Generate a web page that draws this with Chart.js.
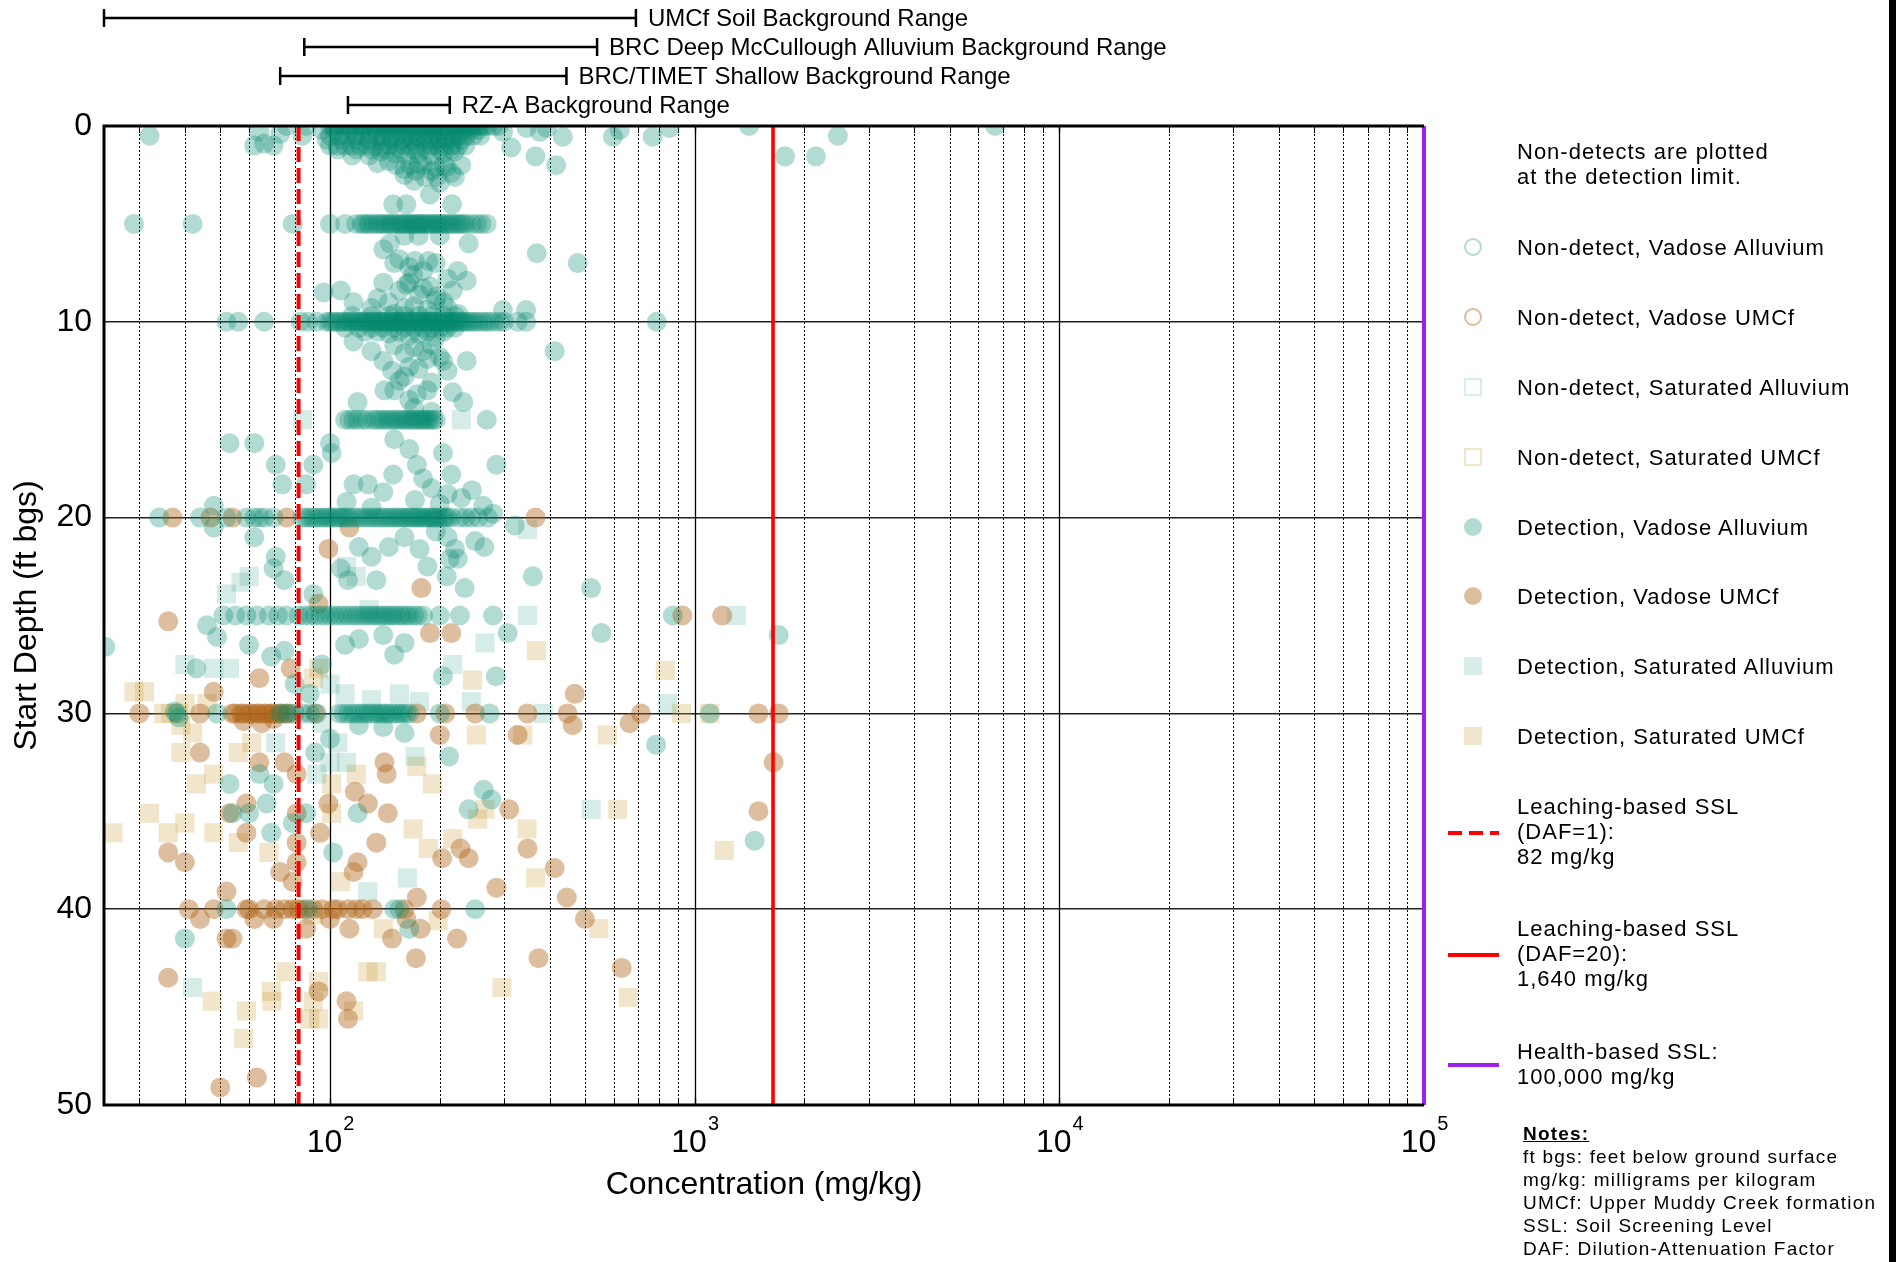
<!DOCTYPE html>
<html>
<head>
<meta charset="utf-8">
<script src="https://cdn.jsdelivr.net/npm/chart.js@4.4.1/dist/chart.umd.min.js"></script>
<style>
  body { margin: 0; background: #fff; }
  #wrap { position: relative; width: 1896px; height: 1262px; overflow: hidden; }
  #chart { position: absolute; left: 0; top: 0; }
  .txt { position: absolute; font-family: "Liberation Sans", Arial, sans-serif; font-size: 22px; letter-spacing: 1px; line-height: 25px; color: #000; white-space: nowrap; }
  .mk { position: absolute; box-sizing: border-box; }
  .notes { position: absolute; left: 1523px; top: 1122px; font-family: "Liberation Sans", Arial, sans-serif; font-size: 19px; letter-spacing: 1.2px; line-height: 23px; white-space: nowrap; }
  .notes b { text-decoration: underline; }
  #edge { position: absolute; left: 1889px; top: 0; width: 7px; height: 1262px; background: #000; }
</style>
</head>
<body>
<div id="wrap">
  <canvas id="chart" width="1896" height="1262"></canvas>
  <div id="legend"></div>
  <div class="notes"><b>Notes:</b><br>ft bgs: feet below ground surface<br>mg/kg: milligrams per kilogram<br>UMCf: Upper Muddy Creek formation<br>SSL: Soil Screening Level<br>DAF: Dilution-Attenuation Factor</div>
  <div id="edge"></div>
</div>
<script>
// --- axis setup ---
const concMin = 24;
const concMax = 100000;
const concTickExponents = [2, 3, 4, 5];
const depthTicks = [0, 10, 20, 30, 40, 50];

// --- background ranges (mg/kg) ---
const rangeNames = [
    "UMCf Soil Background Range",
    "BRC Deep McCullough Alluvium Background Range",
    "BRC/TIMET Shallow Background Range",
    "RZ-A Background Range"
];
const rangeLow = [24, 85, 73, 112];
const rangeHigh = [690, 540, 445, 213];

// --- screening levels (mg/kg) ---
const sslDaf1 = 82;
const sslDaf20 = 1640;
const sslHealth = 100000;

// --- samples: [concentration mg/kg, start depth ft bgs] ---
const nonDetVadoseAlluvium = [];
const nonDetVadoseUMCf = [];
const nonDetSaturatedAlluvium = [];
const nonDetSaturatedUMCf = [];

const detVadoseAlluvium = [
    // 0-3 ft
    [76,0],[86,0],[100,0],[104,0],[109,0],[114,0],[119,0],[124,0],[130,0],[136,0],[142,0],[148,0],[155,0],[162,0],[169,0],[176,0],[184,0],[192,0],[200,0],[209,0],[218,0],[228,0],[240,0],[252,0],[265,0],[298,0.3],[346,0.1],[393,0.1],[623,0.2],[853,0.1],[1410,0],[6670,0],
    [102,0],[107,0],[112,0],[117,0],[122,0],[127,0],[133,0],[139,0],[145,0],[151,0],[158,0],[165,0],[172,0],[180,0],[188,0],[196,0],[205,0],[214,0],[223,0],[234,0],[246,0],[258,0],[270,0],[280,0],[290,0],
    [95,0.2],[103,0.2],[113,0.2],[123,0.2],[133,0.2],[143,0.2],[153,0.2],[163,0.2],[173,0.2],[183,0.2],[193,0.2],[203,0.2],[213,0.2],[223,0.2],[233,0.2],[243,0.2],[255,0.2],
    [32,0.5],[64,0.3],[73,0.4],[84,0.5],[100,0.5],[106,0.5],[111,0.5],[117,0.5],[122,0.5],[128,0.5],[134,0.5],[140,0.5],[147,0.5],[153,0.5],[160,0.5],[167,0.5],[174,0.5],[182,0.5],[190,0.5],[198,0.5],[207,0.5],[216,0.5],[226,0.5],[236,0.5],[247,0.5],[258,0.5],[376,0.3],[435,0.55],[597,0.55],[767,0.55],[2470,0.5],
    [98,0.7],[108,0.7],[118,0.7],[128,0.7],[138,0.7],[148,0.7],[158,0.7],[168,0.7],[178,0.7],[188,0.7],[198,0.7],[208,0.7],[218,0.7],[230,0.7],
    [62,1],[66,0.9],[70,1],[100,1],[105,1],[110,1],[115,1],[121,1],[127,1],[133,1],[139,1],[145,1],[152,1],[159,1],[166,1],[173,1],[181,1],[189,1],[197,1],[206,1],[215,1],[225,1],[235,1],[314,1.1],
    [105,1.2],[118,1.2],[130,1.2],[143,1.2],[156,1.2],[170,1.2],[185,1.2],[200,1.2],[215,1.2],
    [115,1.5],[128,1.5],[138,1.3],[150,1.4],[162,1.5],[175,1.4],[190,1.5],[205,1.4],[220,1.3],[366,1.55],[1770,1.55],[2150,1.55],
    [135,1.9],[152,2],[166,2],[180,2],[195,2.1],[209,2.1],[229,2],[417,2],[145,1.8],[160,2.2],[175,1.9],[190,2.3],[205,2.0],[215,2.4],
    [160,2.5],[182,2.6],[196,2.6],[220,2.6],[172,2.3],[170,2.8],[200,2.9],
    [188,3.5],[162,4],[216,4],[149,4],
    // 5 ft
    [29,5],[42,5],[79,5],[100,5],[110,5],[118,5],[124,5],[129,5],[135,5],[140,5],[145,5],[149,5],[155,5],[160,5],[165,5],[170,5],[175,5],[180,5],[186,5],[192,5],[198,5],[205,5],[212,5],[220,5],[228,5],[237,5],[253,5],[269,5],
    [122,5],[127,5],[132,5],[137,5],[142,5],[147,5],[152,5],[157,5],[162,5],[167,5],[172,5],[177,5],[183,5],[189,5],[195,5],[201,5],[208,5],[216,5],[224,5],[232,5],[245,5],[260,5],
    [146,6],[160,5.6],[175,5.6],[200,5.6],[240,6],[369,6.5],[140,6.3],[155,6.8],[165,7.2],[180,7.4],[195,7.0],[210,7.8],
    [150,7],[171,6.9],[186,6.9],[169,7.6],[224,7.4],[478,7],
    [96,8.5],[107,8.4],[116,9],[140,8],[155,8.4],[162,8.1],[175,8.6],[188,8.2],[196,8.7],[217,8.4],[237,7.9],[130,9.3],[145,9],[160,9.3],[170,9.2],[185,9.4],[205,9],[298,9.4],[345,9.4],
    [165,8.0],[180,8.3],[195,8.9],[210,9.3],[225,9.6],[150,9.6],[135,8.8],
    // 10 ft
    [52,10],[56,10],[66,10],[83,10],[87,10],[92,10],[98,10],[100,10],[104,10],[108,10],[112,10],[116,10],[120,10],[124,10],[128,10],[132,10],[136,10],[140,10],[144,10],[148,10],[152,10],[156,10],[160,10],[165,10],[170,10],[175,10],[180,10],[185,10],[190,10],[195,10],[200,10],[206,10],[212,10],[218,10],[225,10],[232,10],[240,10],[250,10],[262,10],[274,10],[292,10],[327,10],[345,10],[787,10],
    [102,10],[106,10],[110,10],[114,10],[118,10],[122,10],[126,10],[130,10],[134,10],[138,10],[142,10],[146,10],[150,10],[154,10],[158,10],[162,10],[167,10],[172,10],[177,10],[182,10],[187,10],[192,10],[197,10],[203,10],[209,10],[215,10],[221,10],[228,10],[236,10],[245,10],[255,10],[268,10],[282,10],[300,10],
    [110,10.3],[120,10.3],[130,10.3],[140,10.3],[150,10.3],[160,10.3],[170,10.3],[180,10.3],[190,10.3],[200,10.3],[210,10.3],[220,10.3],
    [115,9.7],[130,9.7],[145,9.7],[160,9.7],[175,9.7],[190,9.7],[205,9.7],[220,9.7],
    [116,11],[125,10.5],[135,10.5],[145,10.6],[155,10.5],[165,10.7],[175,10.6],[185,10.5],[195,10.8],[205,10.5],[150,11.2],[170,11.3],[190,11.2],[160,11.6],[180,11.5],[413,11.5],
    [237,12],[204,12],[148,12.5],[175,12.4],[160,12.8],[155,13],[141,13.5],[185,13.5],[190,13.1],[173,13.7],[217,13.6],[165,14],[119,14.1],[232,14.1],
    [130,11.5],[140,12],[165,12.3],[185,11.9],[200,11.8],[210,12.5],[150,13.5],[170,14.4],[190,14.6],
    // 15 ft
    [110,15],[116,15],[123,15],[134,15],[140,15],[146,15],[152,15],[158,15],[164,15],[170,15],[176,15],[182,15],[188,15],[195,15],[269,15],
    [113,15],[119,15],[126,15],[131,15],[137,15],[143,15],[149,15],[155,15],[161,15],[167,15],[173,15],[179,15],[185,15],[192,15],
    [53,16.2],[62,16.2],[100,16.2],[101,16.7],[150,16],[165,16.5],[204,16.7],[71,17.3],[90,17.3],[173,17.3],[286,17.3],[149,17.8],[215,17.8],[180,18],[74,18.3],[86,18.3],[116,18.3],[127,18.3],[190,18.5],[245,18.6],[140,18.7],[210,18.8],[229,19],[171,19.1],[111,19.2],[200,19.3],[48,19.4],[263,19.4],[130,19.5],[280,19.8],
    // 20 ft
    [34,20],[44,20],[52,20],[59,20],[64,20],[70,20],[84,20],[88,20],[92,20],[96,20],[100,20],[104,20],[108,20],[112,20],[118,20],[124,20],[130,20],[136,20],[142,20],[148,20],[154,20],[160,20],[166,20],[172,20],[178,20],[184,20],[190,20],[196,20],[204,20],[210,20],[227,20],[244,20],[271,20],
    [62,20],[66,20],[86,20],[90,20],[94,20],[98,20],[102,20],[106,20],[110,20],[115,20],[121,20],[127,20],[133,20],[139,20],[145,20],[151,20],[157,20],[163,20],[169,20],[175,20],[181,20],[187,20],[193,20],[200,20],[207,20],[215,20],[235,20],[255,20],
    [48,20.5],[321,20.4],[195,20.7],[62,21],[160,21],[210,21],[250,21.2],[120,21.5],[145,21.5],[265,21.5],[176,21.6],[220,21.6],[71,22],[130,22],[213,22.1],[224,22.1],[185,22.5],[70,22.6],[107,22.6],[209,23],[360,23],[75,23.2],[112,23.2],[134,23.2],[90,23.9],[234,23.6],[520,23.6],
    // 25 ft
    [51,25],[55,25],[59,25],[63,25],[68,25],[72,25],[76,25],[82,25],[88,25],[94,25],[100,25],[106,25],[112,25],[118,25],[124,25],[130,25],[136,25],[142,25],[148,25],[155,25],[162,25],[170,25],[180,25],[200,25],[227,25],[280,25],[871,25],
    [85,25],[91,25],[97,25],[103,25],[109,25],[115,25],[121,25],[127,25],[133,25],[139,25],[145,25],[151,25],[158,25],[165,25],[174,25],
    [46,25.5],[307,25.9],[555,25.9],[1700,26],[49,26.1],[140,26],[120,26.2],[160,26.4],[60,26.5],[110,26.5],[24.2,26.6],[75,26.8],[150,27],[69,27.1],[95,27.5],[43,27.7],[204,28.1],[285,28.1],[80,28.5],[88,29],
    // 30 ft and deeper
    [38,30],[38.5,30.2],[37.5,29.9],[49,30],[73,30],[76,30],[80,30],[84,30],[88,30],[92,30],[106,30],[112,30],[118,30],[124,30],[130,30],[136,30],[142,30],[148,30],[155,30],[162,30],[200,30],[274,30],[1100,30],
    [109,30],[115,30],[121,30],[127,30],[133,30],[139,30],[145,30],[152,30],[158,30],[165,30],
    [120,30.6],[140,30.7],[160,31],[100,31.3],[91,32],[212,32.2],[784,31.6],[64,33.1],[53,33.6],[70,33.6],[264,33.9],[277,34.4],[67,34.6],[240,34.9],[54,35.1],[60,35.1],[86,35.1],[119,35.1],[79,35.6],[69,36.1],[1460,36.5],[102,37.1],
    [52,40],[87,40],[150,40],[155,40],[250,40],[165,41],[40,41.5]
];

const detVadoseUMCf = [
    [37,20],[47,20],[54,20],[76,20],[366,20],[113,20.5],[99,21.6],[178,23.6],[93,24.4],[36,25.3],[1190,25],[925,25],[188,25.9],[215,25.9],[78,27.7],[64,28.2],[48,28.9],[469,29],
    [30,30],[44,30],[54,30],[57,30],[60,30],[63,30],[66,30],[69,30],[72,30],[76,30],[91,30],[173,30],[207,30],[250,30],[348,30],[448,30],[712,30],[1496,30],[1700,30],
    [55,30],[58,30],[61,30],[64,30],[67,30],[70,30],[74,30],[78,30],
    [58,30.4],[65,30.5],[70,30.3],[463,30.6],[663,30.5],[327,31.1],[200,31.1],[44,32],[64,32.5],[75,32.5],[141,32.5],[1646,32.5],[81,33.1],[143,33.1],[117,34],[127,34.6],[99,34.6],[59,34.6],[310,34.9],[1496,35],[53,35.1],[81,35.1],[144,35.1],[59,36.1],[94,36.1],[81,36.6],[134,36.6],[228,36.9],[348,36.9],[36,37.1],[203,37.4],[240,37.4],[40,37.6],[119,37.6],[81,37.6],[413,37.9],[116,38.1],[73,38.1],[79,38.6],[286,38.9],[52,39.1],[173,39.4],[446,39.4],
    [41,40],[48,40],[59,40],[66,40],[71,40],[79,40],[82,40],[90,40],[95,40],[102,40],[112,40],[123,40],[131,40],[160,40],[202,40],
    [60,40],[75,40],[85,40],[105,40],[118,40],
    [44,40.5],[62,40.5],[70,40.5],[100,40.5],[162,40.5],[500,40.5],[86,41],[113,41],[177,41],[52,41.5],[54,41.5],[148,41.5],[223,41.5],[172,42.5],[373,42.5],[631,43],[36,43.5],[93,44.2],[111,44.7],[112,45.6],[63,48.6],[50,49.1]
];

const detSaturatedAlluvium = [
    [84,15],[229,15],[348,20.6],[111,22.5],[60,23],[118,23],[57,23.3],[52,23.9],[128,24.7],[348,25],[1300,25],[266,26.4],[217,27.5],[40,27.5],[48,27.7],[53,27.7],[100,28.5],[110,29],[155,29],[130,29.3],[176,29.4],[244,29.4],[842,29.5],[384,30],[95,30.5],[71,31.5],[105,31.5],[171,32.2],[100,32.5],[111,32.5],[92,33.1],[520,34.9],[163,38.4],[127,39.1],[42,44]
];

const detSaturatedUMCf = [
    [368,26.8],[93,27.7],[90,28.2],[246,28.3],[831,27.8],[29,28.9],[31,28.9],[40,29.5],[46,29.5],[35,30],[36.5,30],[38.5,30],[920,30],[1100,30],[39,30.6],[42,31],[252,31.1],[338,31.1],[576,31.1],[61,31.5],[39,32],[56,32],[173,32.7],[48,33.1],[118,33.1],[43,33.6],[101,33.6],[191,33.6],[615,34.9],[32,35.1],[101,35.1],[266,34.9],[254,35.4],[40,35.6],[25.4,36.1],[36,36.1],[48,36.1],[169,35.9],[347,35.9],[56,36.6],[217,36.4],[68,37.1],[186,36.9],[1205,37],[366,38.4],[107,38.6],[80,40],[90,40.3],[198,40.6],[140,41],[546,41],[75.6,43.2],[127,43.2],[134,43.2],[93,43.7],[296,44],[69,44.2],[658,44.5],[47.5,44.7],[69.3,44.7],[90,44.7],[59,45.2],[116,45.2],[88,45.6],[93,45.6],[58,46.6]
];

const axisFont = "'Liberation Sans Narrow', 'Arial Narrow', 'Liberation Sans', Arial, sans-serif";
const toPts = arr => arr.map(([x, y]) => ({ x, y }));
const vLine = v => [{ x: v, y: 0 }, { x: v, y: 50 }];

// series styles (also used by the html legend)
const series = [
    { label: "Non-detect, Vadose Alluvium", data: nonDetVadoseAlluvium, shape: "circle", fill: false, color: "rgba(0,135,110,0.3)", key: "#b2dbd3" },
    { label: "Non-detect, Vadose UMCf", data: nonDetVadoseUMCf, shape: "circle", fill: false, color: "rgba(175,100,25,0.42)", key: "#dcbd9c" },
    { label: "Non-detect, Saturated Alluvium", data: nonDetSaturatedAlluvium, shape: "rect", fill: false, color: "rgba(0,135,110,0.16)", key: "#d8eeea" },
    { label: "Non-detect, Saturated UMCf", data: nonDetSaturatedUMCf, shape: "rect", fill: false, color: "rgba(205,160,70,0.28)", key: "#f1e5cb" },
    { label: "Detection, Vadose Alluvium", data: detVadoseAlluvium, shape: "circle", fill: true, color: "rgba(0,135,110,0.3)", key: "#b2dbd3", order: 2 },
    { label: "Detection, Vadose UMCf", data: detVadoseUMCf, shape: "circle", fill: true, color: "rgba(175,100,25,0.42)", key: "#dcbd9c", order: 3 },
    { label: "Detection, Saturated Alluvium", data: detSaturatedAlluvium, shape: "rect", fill: true, color: "rgba(0,135,110,0.16)", key: "#d8eeea", order: 4 },
    { label: "Detection, Saturated UMCf", data: detSaturatedUMCf, shape: "rect", fill: true, color: "rgba(205,160,70,0.28)", key: "#f1e5cb", order: 5 }
];

const datasets = [
    { label: "Leaching-based SSL (DAF=1)", data: vLine(sslDaf1), showLine: true, borderColor: "#ff0000", borderWidth: 4, borderDash: [15, 6], pointRadius: 0, clip: false, order: 0 },
    { label: "Leaching-based SSL (DAF=20)", data: vLine(sslDaf20), showLine: true, borderColor: "#ff0000", borderWidth: 3.6, pointRadius: 0, clip: false, order: 0 },
    { label: "Health-based SSL", data: vLine(sslHealth), showLine: true, borderColor: "#a020f0", borderWidth: 4, pointRadius: 0, clip: false, order: 0 }
];
series.forEach(s => {
    datasets.push({
        label: s.label,
        data: toPts(s.data),
        pointStyle: s.shape,
        pointRadius: s.shape === "rect" ? 13.5 : 10,
        pointBackgroundColor: s.fill ? s.color : "rgba(0,0,0,0)",
        pointBorderColor: s.fill ? "rgba(0,0,0,0)" : s.color,
        pointBorderWidth: s.fill ? 0 : 2,
        clip: 0,
        order: s.order || 6
    });
});

// custom log grid: solid at decades, dotted between
const gridPlugin = {
    id: "logGrid",
    beforeDatasetsDraw(chart) {
        const { ctx, chartArea: a, scales: { x } } = chart;
        ctx.save();
        ctx.strokeStyle = "#000";
        for (let e = 1; e <= 4; e++) {
            for (let m = 1; m <= 9; m++) {
                const v = m * Math.pow(10, e);
                if (v <= x.min || v >= x.max) continue;
                const px = Math.round(x.getPixelForValue(v)) + 0.5;
                ctx.lineWidth = m === 1 ? 1.3 : 1;
                ctx.setLineDash(m === 1 ? [] : [2, 2]);
                ctx.beginPath();
                ctx.moveTo(px, a.top);
                ctx.lineTo(px, a.bottom);
                ctx.stroke();
                // small inward ticks
                ctx.setLineDash([]);
                ctx.beginPath();
                ctx.moveTo(px, a.bottom);
                ctx.lineTo(px, a.bottom - 7);
                ctx.moveTo(px, a.top);
                ctx.lineTo(px, a.top + 7);
                ctx.stroke();
            }
        }
        ctx.restore();
    },
    afterDatasetsDraw(chart) {
        const { ctx, chartArea: a } = chart;
        ctx.save();
        ctx.strokeStyle = "#000";
        ctx.lineWidth = 3;
        ctx.beginPath();
        ctx.moveTo(a.right, a.top);
        ctx.lineTo(a.left, a.top);
        ctx.lineTo(a.left, a.bottom);
        ctx.lineTo(a.right, a.bottom);
        ctx.stroke();
        ctx.restore();
    },
    afterDraw(chart) {
        const { ctx, chartArea: a, scales: { x } } = chart;
        ctx.save();
        // x tick labels 10^n
        ctx.fillStyle = "#000";
        ctx.textBaseline = "alphabetic";
        concTickExponents.forEach(n => {
            const px = x.getPixelForValue(Math.pow(10, n));
            ctx.font = "32px " + axisFont;
            const w1 = ctx.measureText("10").width;
            ctx.font = "20px " + axisFont;
            const w2 = ctx.measureText(String(n)).width;
            const start = px - (w1 + w2) / 2;
            ctx.font = "32px " + axisFont;
            ctx.textAlign = "left";
            ctx.fillText("10", start, a.bottom + 47);
            ctx.font = "20px " + axisFont;
            ctx.fillText(String(n), start + w1 + 1, a.bottom + 25);
        });
        // background range bars above the plot
        const rowY = [18, 47, 76, 105];
        ctx.strokeStyle = "#000";
        ctx.lineWidth = 2.5;
        ctx.font = "24px " + axisFont;
        ctx.textBaseline = "middle";
        rangeNames.forEach((name, i) => {
            const x0 = x.getPixelForValue(rangeLow[i]);
            const x1 = x.getPixelForValue(rangeHigh[i]);
            const y = rowY[i];
            ctx.beginPath();
            ctx.moveTo(x0, y); ctx.lineTo(x1, y);
            ctx.moveTo(x0, y - 9); ctx.lineTo(x0, y + 9);
            ctx.moveTo(x1, y - 9); ctx.lineTo(x1, y + 9);
            ctx.stroke();
            ctx.fillText(name, x1 + 12, y + 1);
        });
        ctx.restore();
    }
};

new Chart(document.getElementById("chart"), {
    type: "scatter",
    data: { datasets },
    options: {
        responsive: false,
        animation: false,
        layout: { padding: { left: 0, top: 126, right: 472, bottom: 0 } },
        plugins: { legend: { display: false }, tooltip: { enabled: false } },
        scales: {
            x: {
                type: "logarithmic",
                min: concMin,
                max: concMax,
                grid: { display: false },
                border: { display: false },
                ticks: { display: false },
                title: {
                    display: true,
                    text: "Concentration (mg/kg)",
                    color: "#000",
                    font: { family: axisFont, size: 32 },
                    padding: { top: 58, bottom: 58 }
                },
                afterFit: s => { s.height = 157; }
            },
            y: {
                reverse: true,
                min: 0,
                max: 50,
                afterBuildTicks: s => { s.ticks = depthTicks.map(v => ({ value: v })); },
                grid: {
                    color: "#222",
                    lineWidth: c => (c.tick && (c.tick.value === 0 || c.tick.value === 50)) ? 0 : 1.5,
                    drawTicks: false
                },
                border: { display: false },
                ticks: { color: "#000", padding: 12, font: { family: axisFont, size: 32 } },
                title: {
                    display: true,
                    text: "Start Depth (ft bgs)",
                    color: "#000",
                    font: { family: axisFont, size: 32 },
                    padding: { top: 8, bottom: 8 }
                },
                afterFit: s => { s.width = 104; }
            }
        }
    },
    plugins: [gridPlugin]
});

// --- html legend ---
const legend = document.getElementById("legend");
function addText(html, left, top) {
    const d = document.createElement("div");
    d.className = "txt";
    d.style.left = left + "px";
    d.style.top = top + "px";
    d.innerHTML = html;
    legend.appendChild(d);
}
addText("Non-detects are plotted<br>at the detection limit.", 1517, 139);

const rowCenters = [247, 317, 387, 457, 527, 596, 666, 736];
series.forEach((s, i) => {
    const y = rowCenters[i];
    const m = document.createElement("div");
    m.className = "mk";
    m.style.width = "18px";
    m.style.height = "18px";
    m.style.left = (1473 - 9) + "px";
    m.style.top = (y - 9) + "px";
    if (s.shape === "circle") m.style.borderRadius = "50%";
    if (s.fill) m.style.background = s.key;
    else m.style.border = "2.5px solid " + s.key;
    legend.appendChild(m);
    addText(s.label, 1517, y - 12.5);
});

const lineKeys = [
    { html: "Leaching-based SSL<br>(DAF=1):<br>82 mg/kg", top: 794, y: 833, color: "#ff0000", dash: "14 7" },
    { html: "Leaching-based SSL<br>(DAF=20):<br>1,640 mg/kg", top: 916, y: 955, color: "#ff0000", dash: "" },
    { html: "Health-based SSL:<br>100,000 mg/kg", top: 1039, y: 1065, color: "#a020f0", dash: "" }
];
lineKeys.forEach(k => {
    const svg = document.createElementNS("http://www.w3.org/2000/svg", "svg");
    svg.setAttribute("width", "52");
    svg.setAttribute("height", "8");
    svg.style.position = "absolute";
    svg.style.left = "1448px";
    svg.style.top = (k.y - 4) + "px";
    const ln = document.createElementNS("http://www.w3.org/2000/svg", "line");
    ln.setAttribute("x1", "0"); ln.setAttribute("y1", "4");
    ln.setAttribute("x2", "51"); ln.setAttribute("y2", "4");
    ln.setAttribute("stroke", k.color);
    ln.setAttribute("stroke-width", "4");
    if (k.dash) ln.setAttribute("stroke-dasharray", k.dash);
    svg.appendChild(ln);
    legend.appendChild(svg);
    addText(k.html, 1517, k.top);
});
</script>
</body>
</html>
